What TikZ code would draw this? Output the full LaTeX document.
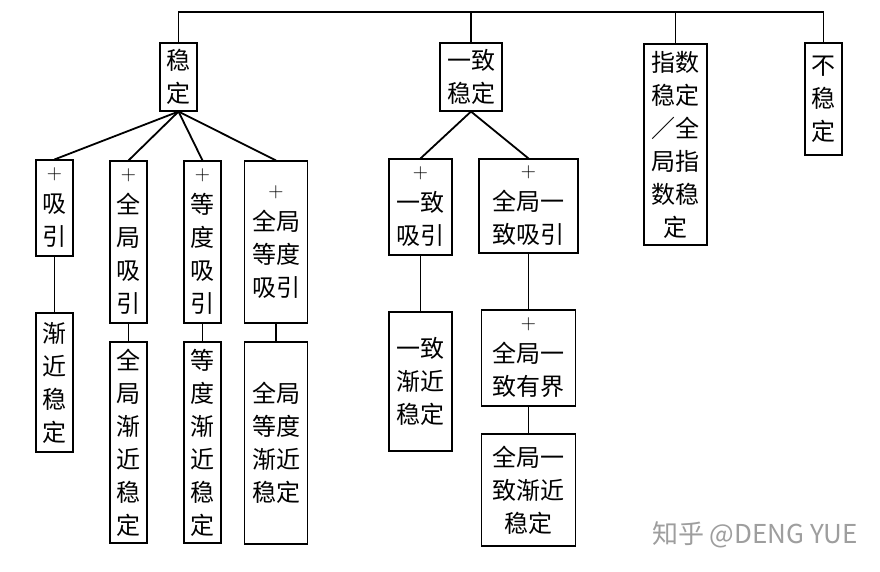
\documentclass[tikz,border=0pt]{standalone}
\usepackage{fontspec}
\newfontfamily\cjk{Noto Sans CJK SC}
\newcommand\plusmark{{\rmfamily\fontsize{21}{33}\selectfont +}}
\begin{document}
\begin{tikzpicture}[x=1pt,y=-1pt,
  box/.style={draw, line width=1.1pt, inner sep=0pt, align=center,
    font=\cjk\fontsize{24}{33}\selectfont},
  conn/.style={line width=1.8pt}]
\useasboundingbox[fill=white] (0,0) rectangle (880,571);
% top level
\node[box, minimum width=37pt, minimum height=68pt] (s) at (178.5,77) {稳\\定};
\node[box, minimum width=62pt, minimum height=68pt] (ys) at (471,77) {一致\\稳定};
\node[box, minimum width=63pt, minimum height=201pt] (zs) at (675.5,144.5) {指数\\稳定\\／全\\局指\\数稳\\定};
\node[box, minimum width=37pt, minimum height=112pt] (bs) at (823.5,99) {不\\稳\\定};
% children of s
\node[box, minimum width=37pt, minimum height=96pt] (a1) at (54.5,208) {\plusmark\\吸\\引};
\node[box, minimum width=37pt, minimum height=162pt] (a2) at (128.5,242) {\plusmark\\全\\局\\吸\\引};
\node[box, minimum width=37pt, minimum height=162pt] (a3) at (202.5,242) {\plusmark\\等\\度\\吸\\引};
\node[box, minimum width=63pt, minimum height=162pt] (a4) at (276,242) {\plusmark\\全局\\等度\\吸引};
\node[box, minimum width=37pt, minimum height=139pt] (b1) at (54.5,382.5) {渐\\近\\稳\\定};
\node[box, minimum width=37pt, minimum height=201pt] (b2) at (128.5,442.5) {全\\局\\渐\\近\\稳\\定};
\node[box, minimum width=37pt, minimum height=201pt] (b3) at (202.5,442.5) {等\\度\\渐\\近\\稳\\定};
\node[box, minimum width=63pt, minimum height=202pt] (b4) at (276,443) {全局\\等度\\渐近\\稳定};
% children of ys
\node[box, minimum width=63pt, minimum height=96pt] (c1) at (420.5,207) {\plusmark\\一致\\吸引};
\node[box, minimum width=99pt, minimum height=94pt] (c2) at (528.5,206) {\plusmark\\全局一\\致吸引};
\node[box, minimum width=63pt, minimum height=139pt] (d1) at (420.5,381.5) {一致\\渐近\\稳定};
\node[box, minimum width=94pt, minimum height=96pt] (d2) at (528.5,358) {\plusmark\\全局一\\致有界};
\node[box, minimum width=94pt, minimum height=112pt] (d3) at (528.5,490) {全局一\\致渐近\\稳定};
% watermark
\node[text=black!38, font=\cjk\fontsize{26}{26}\selectfont] (wm) at (755,535) {知乎 @DENG YUE};
% connectors
\coordinate (bar) at (0,12);
\draw[conn] (s.north) -- (s.north |- bar) -- (bs.north |- bar) -- (bs.north);
\draw[conn] (ys.north) -- (ys.north |- bar);
\draw[conn] (zs.north) -- (zs.north |- bar);
\foreach \c in {a1,a2,a3,a4} \draw[conn] (s.south) -- (\c.north);
\foreach \c in {c1,c2} \draw[conn] (ys.south) -- (\c.north);
\draw[conn] (a1.south) -- (b1.north);
\draw[conn] (a2.south) -- (b2.north);
\draw[conn] (a3.south) -- (b3.north);
\draw[conn] (a4.south) -- (b4.north);
\draw[conn] (c1.south) -- (d1.north);
\draw[conn] (c2.south) -- (d2.north);
\draw[conn] (d2.south) -- (d3.north);
\end{tikzpicture}
\end{document}
